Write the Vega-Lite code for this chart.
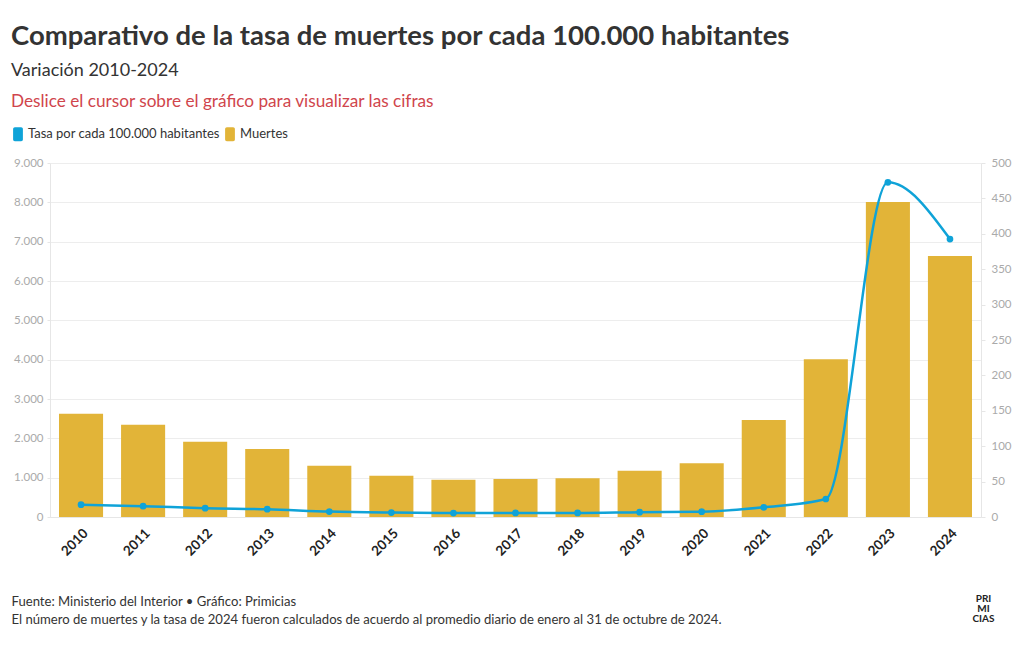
{
  "$schema": "https://vega.github.io/schema/vega-lite/v6.json",
  "width": 931,
  "height": 354,
  "autosize": "none",
  "padding": {"left": 50, "top": 163, "right": 39, "bottom": 133},
  "background": "white",
  "title": {
    "text": "Comparativo de la tasa de muertes por cada 100.000 habitantes",
    "subtitle": "Variación 2010-2024",
    "anchor": "start",
    "frame": "group",
    "dx": -39,
    "offset": 13,
    "font": "Lato",
    "fontSize": 27.5,
    "fontWeight": "bold",
    "color": "#333333",
    "subtitleFont": "Lato",
    "subtitleFontSize": 18,
    "subtitleColor": "#333333",
    "subtitlePadding": 12
  },
  "data": {
    "values": [
      {"anio": "2010", "muertes": 2626, "tasa": 17.4},
      {"anio": "2011", "muertes": 2346, "tasa": 15.3},
      {"anio": "2012", "muertes": 1914, "tasa": 12.4},
      {"anio": "2013", "muertes": 1726, "tasa": 11.0},
      {"anio": "2014", "muertes": 1302, "tasa": 7.6},
      {"anio": "2015", "muertes": 1048, "tasa": 6.2},
      {"anio": "2016", "muertes": 946, "tasa": 5.6},
      {"anio": "2017", "muertes": 963, "tasa": 5.7},
      {"anio": "2018", "muertes": 988, "tasa": 5.7},
      {"anio": "2019", "muertes": 1175, "tasa": 6.8},
      {"anio": "2020", "muertes": 1365, "tasa": 7.5},
      {"anio": "2021", "muertes": 2466, "tasa": 13.7},
      {"anio": "2022", "muertes": 4010, "tasa": 25.4},
      {"anio": "2023", "muertes": 8009, "tasa": 472.7},
      {"anio": "2024", "muertes": 6636, "tasa": 392.6}
    ]
  },
  "encoding": {
    "x": {
      "field": "anio",
      "type": "ordinal",
      "scale": {"paddingInner": 0.29, "paddingOuter": 0.145},
      "axis": {
        "labelAngle": -45,
        "labelFont": "Lato",
        "labelFontSize": 13.5,
        "labelFontWeight": "bold",
        "labelColor": "#222222",
        "labelPadding": 9,
        "ticks": false,
        "domainColor": "#e6e6e6",
        "title": ["Fuente: Ministerio del Interior • Gráfico: Primicias", "El número de muertes y la tasa de 2024 fueron calculados de acuerdo al promedio diario de enero al 31 de octubre de 2024."],
        "titleFont": "Lato",
        "titleFontSize": 13.1,
        "titleFontWeight": "normal",
        "titleColor": "#333333",
        "titleAnchor": "start",
        "titleAlign": "left",
        "titleBaseline": "top",
        "titleX": -39,
        "titleY": 78,
        "titleLineHeight": 18
      }
    }
  },
  "layer": [
    {
      "mark": {"type": "bar"},
      "encoding": {
        "y": {
          "field": "muertes",
          "type": "quantitative",
          "scale": {"domain": [0, 9000], "nice": false},
          "axis": {
            "orient": "left",
            "values": [0, 1000, 2000, 3000, 4000, 5000, 6000, 7000, 8000, 9000],
            "labelExpr": "replace(format(datum.value, ','), ',', '.')",
            "labelFont": "Lato",
            "labelFontSize": 11.5,
            "labelColor": "#aaaaaa",
            "labelPadding": 4,
            "tickSize": 3,
            "tickColor": "#e6e6e6",
            "domainColor": "#e6e6e6",
            "gridColor": "#ededed",
            "title": null
          }
        },
        "color": {
          "datum": "Muertes",
          "type": "nominal",
          "scale": {"domain": ["Tasa por cada 100.000 habitantes", "Muertes"], "range": ["#0fa3d8", "#e2b438"]},
          "legend": {
            "orient": "none",
            "legendX": -39,
            "legendY": -70,
            "direction": "horizontal",
            "title": "Deslice el cursor sobre el gráfico para visualizar las cifras",
            "titleFont": "Lato",
            "titleFontSize": 17.2,
            "titleFontWeight": "normal",
            "titleColor": "#d0454c",
            "titlePadding": 17,
            "titleLimit": 800,
            "labelFont": "Lato",
            "labelFontSize": 13,
            "labelColor": "#333333",
            "labelLimit": 400,
            "labelOffset": 3,
            "columnPadding": 3,
            "symbolType": "M-0.45,-1 h0.9 a0.25,0.25 0 0 1 0.25,0.25 v1.5 a0.25,0.25 0 0 1 -0.25,0.25 h-0.9 a0.25,0.25 0 0 1 -0.25,-0.25 v-1.5 a0.25,0.25 0 0 1 0.25,-0.25 z",
            "symbolSize": 196,
            "symbolStrokeWidth": 0,
            "symbolOpacity": 1
          }
        }
      }
    },
    {
      "mark": {"type": "line", "interpolate": "monotone", "strokeWidth": 2.5, "point": {"filled": true, "size": 45, "opacity": 1}},
      "encoding": {
        "y": {
          "field": "tasa",
          "type": "quantitative",
          "scale": {"domain": [0, 500], "nice": false},
          "axis": {
            "orient": "right",
            "values": [0, 50, 100, 150, 200, 250, 300, 350, 400, 450, 500],
            "labelFont": "Lato",
            "labelFontSize": 11.5,
            "labelColor": "#aaaaaa",
            "labelPadding": 6,
            "tickSize": 4,
            "tickColor": "#e6e6e6",
            "domainColor": "#e6e6e6",
            "grid": false,
            "title": ["PRI", "MI", "CIAS"],
            "titleAngle": 0,
            "titleFont": "Lato",
            "titleFontSize": 10,
            "titleFontWeight": "bold",
            "titleColor": "#222222",
            "titleAlign": "center",
            "titleBaseline": "top",
            "titleAnchor": "start",
            "titleX": 2,
            "titleY": 430,
            "titleLineHeight": 10
          }
        },
        "color": {"datum": "Tasa por cada 100.000 habitantes", "type": "nominal"}
      }
    }
  ],
  "resolve": {"scale": {"y": "independent"}},
  "config": {
    "view": {"stroke": null},
    "font": "Lato"
  }
}
